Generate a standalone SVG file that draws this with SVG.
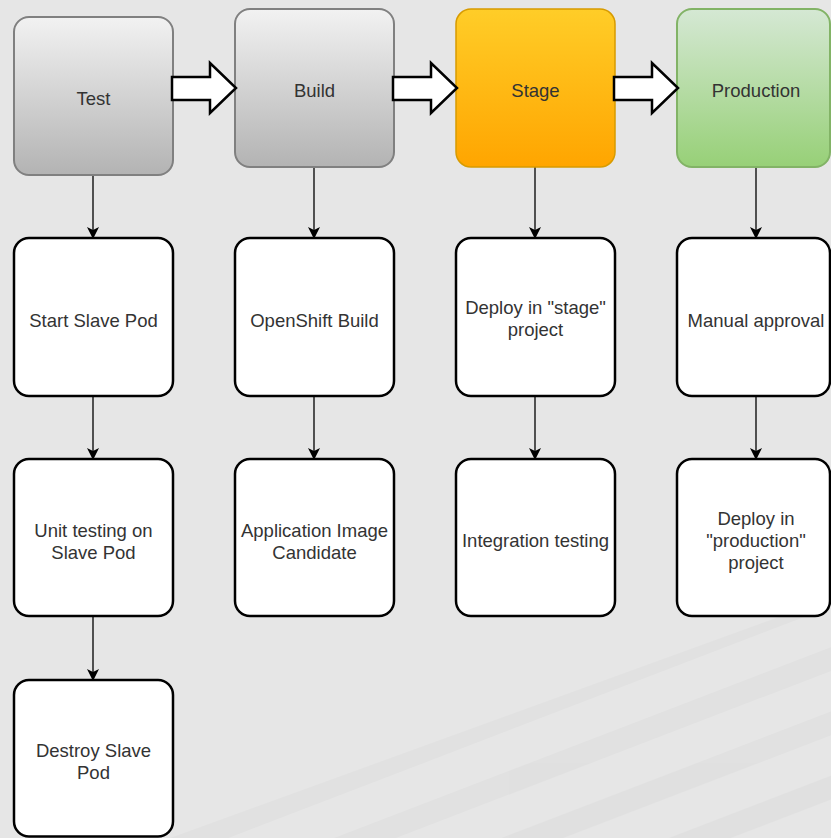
<svg xmlns="http://www.w3.org/2000/svg" width="831" height="838" viewBox="0 0 831 838">
<defs>
<linearGradient id="gGray" x1="0" y1="0" x2="0" y2="1"><stop offset="0" stop-color="#f2f2f2"/><stop offset="1" stop-color="#b3b3b3"/></linearGradient>
<linearGradient id="gOrange" x1="0" y1="0" x2="0" y2="1"><stop offset="0" stop-color="#ffcd28"/><stop offset="1" stop-color="#ffa500"/></linearGradient>
<linearGradient id="gGreen" x1="0" y1="0" x2="0" y2="1"><stop offset="0" stop-color="#d5e8d4"/><stop offset="1" stop-color="#97d077"/></linearGradient>
<marker id="ah" viewBox="0 0 12 12" refX="11" refY="6" markerWidth="12" markerHeight="12" markerUnits="userSpaceOnUse" orient="auto"><path d="M0,0 L12,6 L0,12 L3,6 Z" fill="#000"/></marker>
<clipPath id="stripeClip"><polygon points="170,838 831,598 831,838"/></clipPath>
<style>
.gray{fill:url(#gGray);stroke:#808080;stroke-width:2}
.orange{fill:url(#gOrange);stroke:#d79b00;stroke-width:1.5}
.green{fill:url(#gGreen);stroke:#82b366;stroke-width:2}
.white{fill:#fff;stroke:#000;stroke-width:2.5}
text{font-family:"Liberation Sans",Arial,sans-serif;font-size:18.5px;fill:#333;text-anchor:middle}
.conn{stroke:#000;stroke-width:1.3;fill:none;marker-end:url(#ah)}
.big{fill:#fff;stroke:#000;stroke-width:2.5;stroke-linejoin:miter}
</style>
</defs>
<rect x="0" y="0" width="831" height="838" fill="#e6e6e6"/>
<g clip-path="url(#stripeClip)" fill="#000" opacity="0.018">
<g transform="rotate(-21 831 838)">
<rect x="0" y="600" width="1400" height="22"/>
<rect x="0" y="660" width="1400" height="22"/>
<rect x="0" y="720" width="1400" height="22"/>
<rect x="0" y="780" width="1400" height="22"/>
<rect x="0" y="840" width="1400" height="22"/>
<rect x="0" y="900" width="1400" height="22"/>
</g>
</g>
<g id="connectors">
<line class="conn" x1="93" y1="175" x2="93" y2="238"/>
<line class="conn" x1="93" y1="396" x2="93" y2="459"/>
<line class="conn" x1="93" y1="616" x2="93" y2="680"/>
<line class="conn" x1="314" y1="167" x2="314" y2="238"/>
<line class="conn" x1="314" y1="396" x2="314" y2="459"/>
<line class="conn" x1="535" y1="167" x2="535" y2="238"/>
<line class="conn" x1="535" y1="396" x2="535" y2="459"/>
<line class="conn" x1="756" y1="167" x2="756" y2="238"/>
<line class="conn" x1="756" y1="396" x2="756" y2="459"/>
</g>
<g id="test"><rect class="gray" x="14" y="17" width="159" height="158" rx="15"/><text x="93.5" y="105">Test</text></g>
<g id="build"><rect class="gray" x="235" y="9" width="159" height="158" rx="15"/><text x="314.5" y="97">Build</text></g>
<g id="stage"><rect class="orange" x="456" y="9" width="159" height="158" rx="15"/><text x="535.5" y="97">Stage</text></g>
<g id="production"><rect class="green" x="677" y="9" width="153" height="158" rx="15"/><text x="756" y="97">Production</text></g>
<g id="flow-arrows">
<path class="big" d="M172,77 L210,77 L210,63 L236,88 L210,113 L210,100 L172,100 Z"/>
<path class="big" d="M393,77 L431,77 L431,63 L457,88 L431,113 L431,100 L393,100 Z"/>
<path class="big" d="M614,77 L652,77 L652,63 L678,88 L652,113 L652,100 L614,100 Z"/>
</g>
<g id="start-slave-pod"><rect class="white" x="14" y="238" width="159" height="158" rx="15"/><text x="93.5" y="327">Start Slave Pod</text></g>
<g id="unit-testing"><rect class="white" x="14" y="459" width="159" height="157" rx="15"/><text x="93.5" y="537">Unit testing on</text><text x="93.5" y="558.5">Slave Pod</text></g>
<g id="destroy-slave-pod"><rect class="white" x="14" y="680" width="159" height="156.5" rx="15"/><text x="93.5" y="757">Destroy Slave</text><text x="93.5" y="778.5">Pod</text></g>
<g id="openshift-build"><rect class="white" x="235" y="238" width="159" height="158" rx="15"/><text x="314.5" y="327">OpenShift Build</text></g>
<g id="app-image"><rect class="white" x="235" y="459" width="159" height="157" rx="15"/><text x="314.5" y="537">Application Image</text><text x="314.5" y="558.5">Candidate</text></g>
<g id="deploy-stage"><rect class="white" x="456" y="238" width="159" height="158" rx="15"/><text x="535.5" y="314">Deploy in "stage"</text><text x="535.5" y="336">project</text></g>
<g id="integration-testing"><rect class="white" x="456" y="459" width="159" height="157" rx="15"/><text x="535.5" y="547">Integration testing</text></g>
<g id="manual-approval"><rect class="white" x="677" y="238" width="153" height="158" rx="15"/><text x="756" y="327">Manual approval</text></g>
<g id="deploy-production"><rect class="white" x="677" y="459" width="153" height="157" rx="15"/><text x="756" y="525">Deploy in</text><text x="756" y="547">"production"</text><text x="756" y="568.5">project</text></g>
</svg>
